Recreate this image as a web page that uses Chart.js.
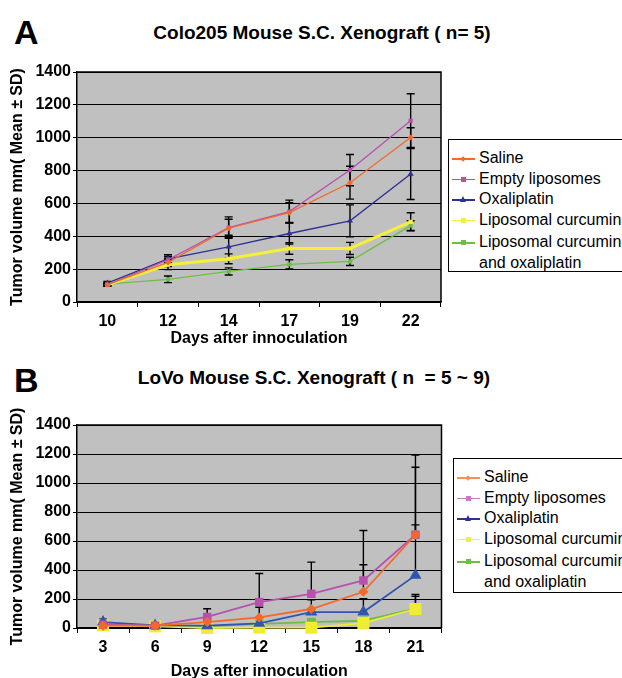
<!DOCTYPE html>
<html>
<head>
<meta charset="utf-8">
<script src="https://cdn.jsdelivr.net/npm/chart.js@4"></script>
<style>
body{margin:0;width:622px;height:678px;overflow:hidden;background:#fff;position:relative;font-family:"Liberation Sans",Arial,sans-serif;color:#000}
.abs{position:absolute}
.letter{font-weight:bold;font-size:34px;line-height:34px}
.title{font-weight:bold;font-size:19px;line-height:19px;text-align:center;white-space:pre}
.legend{border:1px solid #000;background:#fff;width:220px;box-sizing:border-box;padding-top:8px;font-size:16px}
.row{position:relative;height:20.5px;line-height:20.5px;padding-left:30px;white-space:nowrap}
.row.two{height:auto;margin-top:2px}
.ln{position:absolute;left:3px;top:10px;width:23px;height:1.5px}
.mk{position:absolute}
.sq{left:12px;top:8px;width:5px;height:5px}
.dm{left:12px;top:8.5px;width:4px;height:4px;transform:rotate(45deg)}
.tr{left:11px;top:7px;width:0;height:0;border-left:3.5px solid transparent;border-right:3.5px solid transparent}
canvas{position:absolute;left:0}
</style>
</head>
<body>
<div class="abs letter" style="left:14px;top:15px">A</div>
<div class="abs title" style="left:0;width:644px;top:23px">Colo205 Mouse S.C. Xenograft ( n= 5)</div>
<canvas id="chartA" width="445" height="303" style="top:45px"></canvas>
<div class="abs legend" id="legA" style="left:448px;top:139px;height:133px"></div>

<div class="abs letter" style="left:14px;top:363px">B</div>
<div class="abs title" style="left:0;width:628px;top:368px">LoVo Mouse S.C. Xenograft ( n  = 5 ~ 9)</div>
<canvas id="chartB" width="450" height="286" style="top:395px"></canvas>
<div class="abs legend" id="legB" style="left:453px;top:458px;height:135px"></div>

<script>
// panel A - Colo205
const daysA = ['10', '12', '14', '17', '19', '22'];
const salineA = [105, 241, 449, 544, 726, 1001];
const emptyA = [105, 257, 453, 550, 803, 1103];
const oxaliA = [115, 263, 336, 417, 494, 779];
const curcA = [105, 227, 263, 326, 326, 488];
const comboA = [109, 138, 186, 229, 247, 465];
const salineSdA = [8, 25, 55, 60, 100, 60];
const emptySdA = [8, 20, 65, 70, 95, 165];
const oxaliSdA = [10, 25, 70, 65, 97, 155];
const curcSdA = [8, 30, 30, 35, 37, 55];
const comboSdA = [8, 20, 22, 28, 25, 30];

// panel B - LoVo
const daysB = ['3', '6', '9', '12', '15', '18', '21'];
const salineB = [16, 16, 41, 73, 131, 250, 643];
const emptyB = [23, 16, 76, 179, 236, 328, 643];
const oxaliB = [41, 18, 16, 32, 110, 110, 363];
const curcB = [18, 11, 0, 3, 2, 34, 131];
const comboB = [28, 18, 11, 28, 41, 50, 133];
const salineSdB = [5, 5, 20, 70, 64, 186, 466];
const emptySdB = [8, 5, 57, 197, 218, 344, 550];
const oxaliSdB = [20, 5, 10, 10, 20, 92, 348];
const curcSdB = [5, 3, 5, 5, 5, 10, 100];
const comboSdB = [5, 5, 10, 10, 15, 20, 85];

const yTicks = [0, 200, 400, 600, 800, 1000, 1200, 1400];
const groups = ['Saline', 'Empty liposomes', 'Oxaliplatin', 'Liposomal curcumin', 'Liposomal curcumin\nand oxaliplatin'];

const FONT = '"Liberation Sans", Arial, sans-serif';
Chart.defaults.font.family = FONT;
Chart.defaults.color = '#000';

const plotBox = {
    id: 'plotBox',
    beforeDraw(chart) {
        const {ctx, chartArea: a} = chart;
        ctx.save();
        ctx.fillStyle = '#c0c0c0';
        ctx.fillRect(a.left, a.top, a.width, a.height);
        ctx.restore();
    },
    afterDraw(chart) {
        const {ctx, chartArea: a} = chart;
        ctx.save();
        ctx.strokeStyle = '#000';
        ctx.lineWidth = 1.5;
        ctx.beginPath();
        ctx.moveTo(a.left, a.top);
        ctx.lineTo(a.right, a.top);
        ctx.lineTo(a.right, a.bottom);
        ctx.stroke();
        ctx.restore();
    }
};

const errorBars = {
    id: 'errorBars',
    beforeDatasetsDraw(chart, args, opts) {
        const {ctx, chartArea: a} = chart;
        const y = chart.scales.y;
        ctx.save();
        ctx.beginPath();
        ctx.rect(a.left, a.top, a.width, a.height);
        ctx.clip();
        ctx.strokeStyle = '#000';
        ctx.lineWidth = 1.4;
        chart.data.datasets.forEach((ds, i) => {
            chart.getDatasetMeta(i).data.forEach((pt, j) => {
                const v = ds.data[j];
                const sd = ds.sd[j];
                const top = y.getPixelForValue(v + sd);
                const bot = opts.plusOnly ? pt.y : y.getPixelForValue(v - sd);
                ctx.beginPath();
                ctx.moveTo(pt.x, top);
                ctx.lineTo(pt.x, bot);
                ctx.moveTo(pt.x - 4, top);
                ctx.lineTo(pt.x + 4, top);
                if (!opts.plusOnly) {
                    ctx.moveTo(pt.x - 4, bot);
                    ctx.lineTo(pt.x + 4, bot);
                }
                ctx.stroke();
            });
        });
        ctx.restore();
    }
};

function series(label, data, sd, color, style, radius, width) {
    return {
        label, data, sd,
        borderColor: color,
        backgroundColor: color,
        borderWidth: width,
        pointStyle: style,
        pointRadius: radius,
        pointBorderWidth: 0,
        clip: false,
        tension: 0
    };
}

function makeChart(id, labels, datasets, axisH, padTop, plusOnly) {
    return new Chart(document.getElementById(id), {
        type: 'line',
        data: {labels, datasets},
        plugins: [plotBox, errorBars],
        options: {
            responsive: false,
            animation: false,
            devicePixelRatio: 1,
            layout: {padding: {top: padTop, right: 4, left: 0, bottom: 0}},
            plugins: {
                legend: {display: false},
                tooltip: {enabled: false},
                errorBars: {plusOnly}
            },
            scales: {
                x: {
                    offset: true,
                    afterFit: s => { s.height = axisH; },
                    grid: {drawOnChartArea: false, offset: true, color: '#000', tickLength: 5},
                    border: {color: '#000', width: 1.5},
                    ticks: {font: {size: 16, weight: 'bold'}, padding: 5, maxRotation: 0},
                    title: {display: true, text: 'Days after innoculation', font: {size: 16, weight: 'bold'}, padding: 0}
                },
                y: {
                    min: 0,
                    max: 1400,
                    afterFit: s => { s.width = 77; },
                    afterBuildTicks: s => { s.ticks = yTicks.map(v => ({value: v})); },
                    grid: {color: '#000', lineWidth: 1, tickLength: 4},
                    border: {color: '#000', width: 1.5},
                    ticks: {font: {size: 16, weight: 'bold'}, padding: 2, callback: v => String(v)},
                    title: {display: true, text: 'Tumor volume mm( Mean \u00b1 SD)', font: {size: 16, weight: 'bold'}, padding: {top: 8, bottom: 0}}
                }
            }
        }
    });
}

makeChart('chartA', daysA, [
    series(groups[0], salineA, salineSdA, '#f4692a', 'rectRot', 3, 1.3),
    series(groups[1], emptyA, emptySdA, '#b851ae', 'rect', 3, 1.3),
    series(groups[2], oxaliA, oxaliSdA, '#2e3192', 'triangle', 3.5, 1.3),
    series(groups[3], curcA, curcSdA, '#f5ef3a', 'rect', 3, 3),
    series(groups[4], comboA, comboSdA, '#6dbe45', 'rect', 3, 1.3)
], 46, 27, false);

makeChart('chartB', daysB, [
    series(groups[0], salineB, salineSdB, '#f4692a', 'rectRot', 5, 1.8),
    series(groups[1], emptyB, emptySdB, '#b851ae', 'rect', 6, 1.8),
    series(groups[2], oxaliB, oxaliSdB, '#2f55b0', 'triangle', 7, 1.8),
    series(groups[3], curcB, curcSdB, '#f0ec30', 'rect', 8.5, 1.8),
    series(groups[4], comboB, comboSdB, '#6dbe45', 'rect', 6, 1.8)
], 53, 30, true);

// html legends
const legShapes = ['dm', 'sq', 'tr', 'sq', 'sq'];
function buildLegend(id, lineColors) {
    const box = document.getElementById(id);
    groups.forEach((g, i) => {
        const row = document.createElement('div');
        row.className = 'row' + (i === 4 ? ' two' : '');
        row.innerHTML = g.replace('\n', '<br>');
        const ln = document.createElement('div');
        ln.className = 'ln';
        ln.style.background = lineColors[i];
        row.appendChild(ln);
        const mk = document.createElement('div');
        mk.className = 'mk ' + legShapes[i];
        if (legShapes[i] === 'tr') mk.style.borderBottom = '6px solid ' + lineColors[i];
        else mk.style.background = lineColors[i];
        row.appendChild(mk);
        box.appendChild(row);
    });
}
buildLegend('legA', ['#f4692a', '#b851ae', '#2e3192', '#f5ef3a', '#6dbe45']);
buildLegend('legB', ['#f8905a', '#c77cc0', '#2e3192', '#f5ef3a', '#6dbe45']);
</script>
</body>
</html>
